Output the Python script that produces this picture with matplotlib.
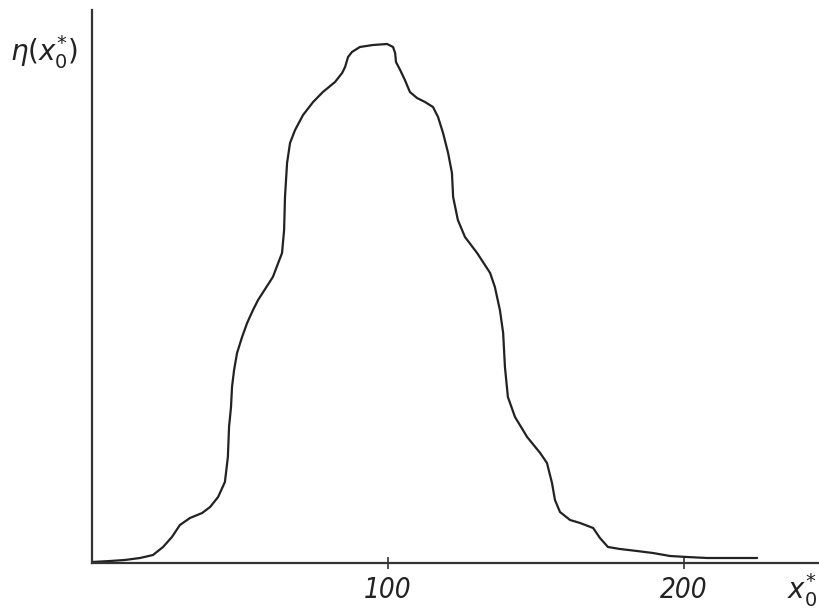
import matplotlib
matplotlib.use("Agg")
import matplotlib.pyplot as plt

# x0* values and eta(x0*) in arbitrary units (peak ~519)
x_vals = [0, 6.1, 11.1, 16.2, 20.6, 24.0, 27.0, 29.7, 33.1, 37.2, 39.9, 42.6, 44.9, 45.9,
          46.3, 46.96, 47.3, 48.0, 49.0, 50.7, 52.4, 54.4, 56.1, 61.1, 64.2, 64.9, 65.2,
          65.9, 66.9, 68.6, 71.3, 74.7, 78.0, 82.1, 84.5, 85.5, 86.5, 87.8, 90.5, 94.9,
          99.7, 101.7, 102.4, 102.7, 104.1, 105.7, 107.4, 109.8, 112.5, 115.2, 116.9,
          118.6, 120.3, 121.6, 122.0, 123.6, 126.0, 130.1, 134.5, 136.1, 137.8, 138.9,
          139.5, 140.5, 142.9, 147.0, 151.4, 153.7, 155.4, 156.4, 158.1, 161.5, 164.9,
          169.3, 171.6, 174.3, 178.4, 184.1, 189.5, 195.3, 201.0, 207.8, 224.7]
eta_vals = [1, 2, 3, 5, 8, 16, 26, 38, 45, 50, 56, 66, 81, 106,
            136, 156, 176, 193, 210, 226, 240, 253, 263, 286, 310, 333, 366,
            400, 420, 433, 448, 461, 471, 481, 490, 496, 506, 511, 516, 518,
            519, 516, 510, 501, 493, 483, 471, 465, 461, 456, 446,
            430, 410, 390, 366, 343, 326, 310, 290, 276, 253, 230,
            196, 166, 146, 126, 110, 100, 80, 63, 51, 43, 40,
            35, 25, 16, 14, 12, 10, 7, 6, 5, 5]
tick_vals = [100, 200]
tick_labels = ["100", "200"]

fig = plt.figure(figsize=(8.19, 6.10), dpi=100)
ax = fig.add_axes([92 / 819, 47 / 610, (819 - 92) / 819, (563 - 10) / 610])
ax.plot(x_vals, eta_vals, color="#222222", lw=1.6, solid_joinstyle="round",
        solid_capstyle="round")
ax.set_xlim(0, 245.6)
ax.set_ylim(0, 553)

for s in ["top", "right"]:
    ax.spines[s].set_visible(False)
for s in ["left", "bottom"]:
    ax.spines[s].set_linewidth(1.6)
    ax.spines[s].set_color("#333333")

ax.set_yticks([])
ax.set_xticks(tick_vals)
ax.set_xticklabels(tick_labels, family="DejaVu Sans", stretch="condensed",
                   style="italic", fontsize=20, color="#222222")
ax.tick_params(axis="x", direction="inout", length=8, width=1.2, color="#333333", pad=5)

fig.text(10 / 819, 1 - 52 / 610, r"$\eta(x_0^{*})$", fontsize=20, va="center", ha="left",
         color="#222222")
fig.text(817 / 819, 1 - 590 / 610, r"$x_0^{*}$", fontsize=20, va="center", ha="right",
         color="#222222")

fig.savefig("out.png", dpi=100, facecolor="white")
